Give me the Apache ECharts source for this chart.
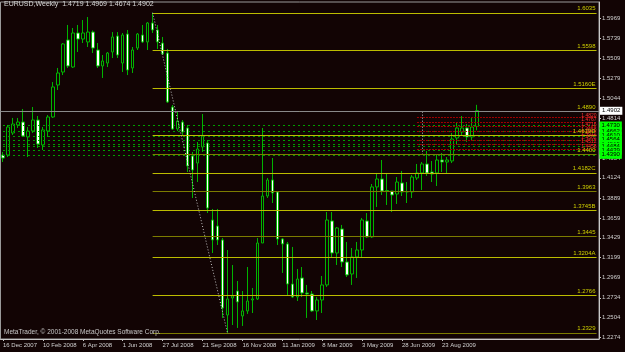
<!DOCTYPE html>
<html>
<head>
<meta charset="utf-8">
<script src="https://cdn.jsdelivr.net/npm/echarts@6/dist/echarts.min.js"></script>
<style>
  html, body { margin: 0; padding: 0; background: #120404; }
  #chart { width: 625px; height: 352px; }
</style>
</head>
<body>
<div id="chart"></div>
<script>
// weekly EURUSD bars, 16 Dec 2007 ... 11 Oct 2009
const opens = [1.4388,1.4388,1.4643,1.4736,1.4770,1.4597,1.4666,1.4793,1.4504,1.4666,
  1.4828,1.5199,1.5349,1.5720,1.5407,1.5801,1.5731,1.5697,1.5812,1.5604,
  1.5419,1.5453,1.5581,1.5766,1.5453,1.5789,1.5396,1.5627,1.5778,1.5697,
  1.5917,1.5836,1.5685,1.5569,1.4944,1.4689,1.4770,1.4701,1.4377,1.4295,
  1.4481,1.4527,1.3635,1.3566,1.3404,1.2535,1.2732,1.2813,1.2524,1.2582,
  1.2709,1.2721,1.3369,1.3913,1.4099,1.3960,1.3415,1.3358,1.2894,1.2744,
  1.2964,1.2790,1.2778,1.2582,1.2709,1.2883,1.3624,1.3253,1.3531,1.3149,
  1.3010,1.3207,1.3288,1.3624,1.3439,1.4018,1.4110,1.3971,1.3971,1.3936,
  1.4064,1.3960,1.3960,1.4122,1.4180,1.4284,1.4191,1.4180,1.4330,1.4307,
  1.4319,1.4585,1.4654,1.4701,1.4597,1.4719];
const closes = [1.4353,1.4712,1.4747,1.4770,1.4608,1.4666,1.4793,1.4515,1.4678,1.4828,
  1.5176,1.5338,1.5674,1.5419,1.5801,1.5731,1.5801,1.5812,1.5627,1.5419,
  1.5477,1.5569,1.5755,1.5546,1.5778,1.5372,1.5604,1.5789,1.5697,1.5917,
  1.5836,1.5697,1.5558,1.5002,1.4689,1.4782,1.4654,1.4261,1.4214,1.4458,
  1.4608,1.3774,1.3404,1.3404,1.2616,1.2721,1.2755,1.2686,1.2582,1.2697,
  1.2721,1.3369,1.3913,1.4099,1.3948,1.3415,1.3358,1.2894,1.2744,1.2952,
  1.2790,1.2778,1.2582,1.2709,1.2883,1.3635,1.3253,1.3543,1.3149,1.2999,
  1.3207,1.3288,1.3635,1.3439,1.4018,1.4110,1.3971,1.3977,1.3925,1.4075,
  1.3960,1.3965,1.4133,1.4180,1.4284,1.4180,1.4168,1.4330,1.4307,1.4330,
  1.4573,1.4701,1.4701,1.4597,1.4712,1.4902];
const lows = [1.4307,1.4365,1.4620,1.4701,1.4597,1.4365,1.4643,1.4469,1.4446,1.4597,
  1.4817,1.5141,1.5314,1.5396,1.5396,1.5581,1.5685,1.5639,1.5569,1.5396,
  1.5280,1.5407,1.5511,1.5511,1.5349,1.5314,1.5338,1.5604,1.5685,1.5604,
  1.5801,1.5616,1.5546,1.4990,1.4678,1.4666,1.4620,1.4191,1.3890,1.4075,
  1.4423,1.3716,1.3253,1.3346,1.2501,1.2329,1.2419,1.2385,1.2408,1.2547,
  1.2558,1.2709,1.3369,1.3890,1.3832,1.3346,1.3022,1.2767,1.2732,1.2697,
  1.2744,1.2501,1.2570,1.2477,1.2558,1.2860,1.3195,1.3114,1.3091,1.2975,
  1.2883,1.2964,1.3207,1.3427,1.3427,1.3786,1.3925,1.3809,1.3728,1.3821,
  1.3913,1.3832,1.3890,1.4099,1.3983,1.4145,1.4075,1.4029,1.4191,1.4180,
  1.4295,1.4515,1.4620,1.4539,1.4562,1.4674];
const highs = [1.4423,1.4736,1.4817,1.4817,1.4921,1.4712,1.4944,1.4840,1.4712,1.4851,
  1.5233,1.5396,1.5685,1.5894,1.5859,1.5894,1.5951,1.5986,1.5830,1.5685,
  1.5546,1.5581,1.5812,1.5812,1.5801,1.5836,1.5639,1.5801,1.5894,1.5928,
  1.6035,1.5894,1.5755,1.5616,1.4967,1.4898,1.4793,1.4736,1.4423,1.4539,
  1.4863,1.4562,1.3763,1.3763,1.3427,1.3288,1.3114,1.2929,1.2813,1.3091,
  1.2848,1.3427,1.4701,1.4122,1.4353,1.3960,1.3427,1.3381,1.3323,1.3068,
  1.3091,1.2883,1.2813,1.2744,1.2987,1.3728,1.3728,1.3554,1.3578,1.3381,
  1.3311,1.3381,1.3659,1.3716,1.4052,1.4180,1.4330,1.4180,1.3971,1.4133,
  1.4203,1.4075,1.4157,1.4284,1.4307,1.4435,1.4319,1.4388,1.4411,1.4365,
  1.4643,1.4770,1.4840,1.4747,1.4817,1.4969];

const dateTicks = ['16 Dec 2007', '10 Feb 2008', '6 Apr 2008', '1 Jun 2008', '27 Jul 2008',
  '21 Sep 2008', '16 Nov 2008', '11 Jan 2009', '8 Mar 2009', '3 May 2009', '28 Jun 2009', '23 Aug 2009'];
const priceTicks = [1.2274, 1.2504, 1.2734, 1.2969, 1.3199, 1.3429, 1.3659, 1.3889, 1.4124,
  1.4354, 1.4584, 1.4814, 1.5044, 1.5279, 1.5509, 1.5739, 1.5969];

// fibo levels from the 1.6035 top to the 1.2329 bottom
const fibLevels = [1.6035, 1.5598, 1.5160, 1.4890, 1.4619, 1.4400, 1.4182, 1.3963, 1.3745, 1.3445, 1.3204, 1.2766, 1.2329];
const fibNames = ['1.6035', '1.5598', '1.5160E', '1.4890', '1.4619D', '1.4400', '1.4182C', '1.3963', '1.3745B', '1.3445', '1.3204A', '1.2766', '1.2329'];
const fibMain = [true, true, true, false, true, false, true, false, true, false, true, true, false];

const greenLevels = [1.4730, 1.4662, 1.4610, 1.4564, 1.4515, 1.4484, 1.4439, 1.4390];
const redLevels = [1.4820, 1.4767, 1.4716, 1.4658, 1.4612, 1.4562, 1.4512, 1.4458];
const lastPrice = 1.4902;
const slots = 120; // bars incl. empty shift on the right

const font = 'Liberation Sans';
const categories = [];
for (let i = 0; i < slots; i++) categories.push(i);
const ohlc = opens.map((o, i) => [o, closes[i], lows[i], highs[i]]);

const showDate = (idx) => idx % 8 === 0 && idx / 8 < dateTicks.length;
const greenDash = { color: '#00a000', type: [2, 3], width: 1 };

const chart = echarts.init(document.getElementById('chart'));
chart.setOption({
  animation: false,
  backgroundColor: '#120404',
  textStyle: { fontFamily: font },
  grid: {
    left: 0, right: 26, top: 2, bottom: 13,
    show: true, borderColor: '#9a9a9a', borderWidth: 1
  },
  xAxis: {
    type: 'category',
    data: categories,
    boundaryGap: true,
    axisLine: { lineStyle: { color: '#c8c8c8' } },
    axisTick: { show: true, alignWithLabel: true, length: 2, interval: showDate, lineStyle: { color: '#c8c8c8' } },
    axisLabel: {
      interval: showDate,
      align: 'left',
      margin: 3,
      fontSize: 6,
      color: '#d0d0d0',
      formatter: (v, idx) => dateTicks[idx / 8] || ''
    },
    splitLine: { show: false }
  },
  yAxis: {
    type: 'value',
    position: 'right',
    min: 1.2257,
    max: 1.6160,
    axisLine: { show: true, lineStyle: { color: '#c8c8c8' } },
    axisTick: { show: true, length: 2, customValues: priceTicks, lineStyle: { color: '#c8c8c8' } },
    axisLabel: {
      customValues: priceTicks,
      margin: 3,
      fontSize: 6,
      color: '#d0d0d0',
      formatter: (v) => v.toFixed(4)
    },
    splitLine: { show: false }
  },
  graphic: [
    { type: 'text', left: 4, top: 1, z: 50,
      style: { text: 'EURUSD,Weekly  1.4719 1.4969 1.4674 1.4902', fill: '#d8d8d8', font: '7px ' + font } },
    { type: 'text', left: 4, top: 329, z: 50,
      style: { text: 'MetaTrader, \u00a9 2001-2008 MetaQuotes Software Corp.', fill: '#c8c8c8', font: '6.5px ' + font } }
  ],
  series: [
    {
      type: 'candlestick',
      data: ohlc,
      barWidth: 3,
      z: 3,
      itemStyle: {
        color: '#120404',
        color0: '#ffffff',
        borderColor: '#00b400',
        borderColor0: '#00b400',
        borderWidth: 1
      }
    },
    {
      // green dotted levels across the whole chart
      type: 'line', data: [], z: 2, silent: true, color: '#00a000',
      markLine: {
        symbol: ['none', 'none'], silent: true,
        lineStyle: greenDash,
        label: { show: false },
        data: greenLevels.map((v) => [
          { coord: [0, v], lineStyle: greenDash,
            label: { show: true, position: 'end', distance: 3, fontSize: 6, color: '#000', backgroundColor: '#00ff00',
              padding: [1, 2], fontFamily: font, formatter: v.toFixed(4) } },
          { coord: [slots - 1, v] }
        ])
      }
    },
    {
      // red dotted levels on the right part
      type: 'line', data: [], z: 2, silent: true, color: '#a00000',
      markLine: {
        symbol: ['none', 'none'], silent: true,
        lineStyle: { color: '#a00000', type: [2, 1], width: 1 },
        label: { show: true, position: 'insideEndTop', distance: 0, fontSize: 5, color: '#ff3030', fontFamily: font },
        data: redLevels.map((v) => [
          { coord: [83, v], lineStyle: { color: '#a00000', type: [2, 1], width: 1 },
            label: { formatter: v.toFixed(4) } },
          { coord: [slots - 1, v] }
        ])
      }
    },
    {
      // fibo levels
      type: 'line', data: [], z: 2, silent: true, color: '#a8a800',
      markLine: {
        symbol: ['none', 'none'], silent: true,
        lineStyle: { color: '#a8a800', type: 'solid', width: 1 },
        label: { position: 'insideEndTop', distance: 1, fontSize: 6, color: '#d0d000', fontFamily: font },
        data: fibLevels.map((v, i) => [
          { coord: [30, v], lineStyle: { color: fibMain[i] ? '#bcbc00' : '#7c7c00', type: 'solid', width: 1 },
            label: { formatter: fibNames[i] } },
          { coord: [slots - 1, v] }
        ])
      }
    },
    {
      // trend line top -> bottom, vertical marker, bid line
      type: 'line', data: [], z: 2, silent: true, color: '#c0c0c0',
      markLine: {
        symbol: ['none', 'none'], silent: true,
        data: [
          [{ coord: [30, 1.6035], lineStyle: { color: '#c0c0c0', type: [1, 2], width: 1 }, label: { show: false } },
           { coord: [45, 1.2329] }],
          [{ coord: [84, 1.4890], lineStyle: { color: '#c0c0c0', type: [1, 2], width: 1 }, label: { show: false } },
           { coord: [84, 1.4400] }],
          { yAxis: lastPrice, lineStyle: { color: '#8a8a8a', type: 'solid', width: 1 },
            label: { show: true, position: 'end', distance: 1, formatter: lastPrice.toFixed(4), fontSize: 6,
              color: '#000', backgroundColor: '#ffffff', padding: [1, 2], fontFamily: font } }
        ]
      }
    }
  ]
});
</script>
</body>
</html>
